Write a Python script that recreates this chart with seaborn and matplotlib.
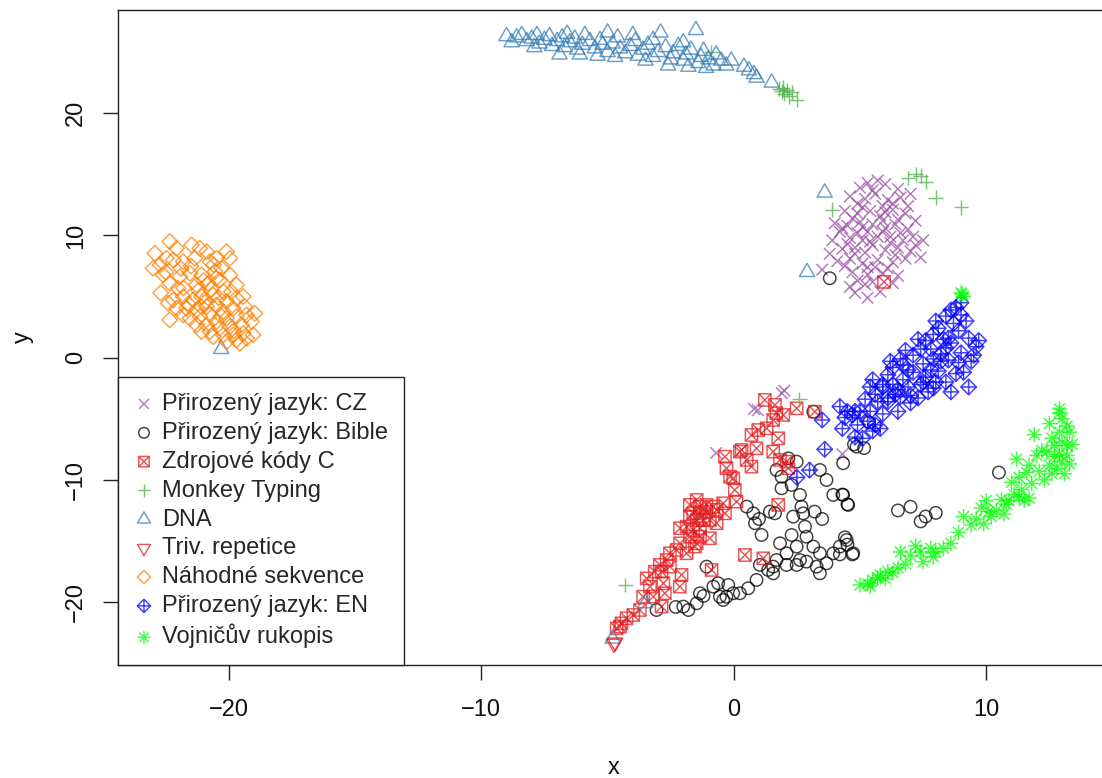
import numpy as np
import pandas as pd
import matplotlib
matplotlib.use("Agg")
import matplotlib.pyplot as plt
from matplotlib.path import Path
import seaborn as sns

# ---------------- data ----------------
cz_x = [5.3, 5.7, 6.0, 5.0, 6.5, 7.0, 4.6, 5.2, 5.6, 6.1, 6.6, 4.9, 5.9, 4.4, 4.9, 5.4, 5.8, 6.3, 6.8, 7.2, 6.5,
        4.0, 4.5, 5.0, 5.5, 6.0, 6.4, 6.9, 4.2, 5.3, 3.9, 4.6, 5.1, 5.7, 6.2, 6.7, 7.5, 7.1, 4.9,
        4.3, 4.8, 5.5, 6.0, 6.5, 7.0, 7.4, 3.8, 5.2, 4.1, 4.6, 5.1, 5.7, 6.3, 6.8, 6.1, 4.4,
        3.5, 4.7, 5.3, 5.9, 6.5, 4.9, 4.6, 5.2, 5.8, 5.3, 6.3, 4.8,
        5.5, 6.3, 5.1, 4.7, 5.9, 6.6, 5.4, 6.4, 5.6, 4.5, 7.2, 5.9, 6.9, 4.8, 5.5, 6.0, 5.1, 6.2, 4.3, 5.3,
        -0.7, 0.8, 0.95, 1.9, 2.0, 4.3]
cz_y = [14.3, 14.5, 14.2, 13.9, 13.8, 13.4, 13.2, 13.0, 13.4, 12.9, 13.1, 12.6, 12.4, 12.0, 11.8, 12.0, 11.6, 12.1, 11.8, 11.2, 11.3,
        11.0, 10.8, 11.1, 10.9, 10.6, 10.9, 10.5, 10.3, 10.3, 9.6, 9.8, 9.6, 9.9, 9.9, 9.6, 9.6, 9.9, 10.2,
        8.9, 9.0, 9.2, 8.8, 9.0, 8.7, 8.2, 8.5, 8.6, 7.9, 8.1, 7.7, 8.0, 7.8, 8.1, 7.3, 7.5,
        7.2, 7.0, 6.8, 6.9, 6.7, 6.3, 5.8, 6.0, 5.4, 4.9, 6.1, 5.3,
        13.7, 12.6, 12.3, 11.4, 11.2, 10.2, 9.5, 8.4, 7.4, 9.3, 9.2, 10.3, 12.4, 8.5, 6.2, 11.9, 10.7, 9.4, 10.6, 7.4,
        -7.8, -4.2, -4.3, -2.9, -2.7, -7.9]

bible_x = [3.15, 2.16, 2.49, 1.69, 1.89, 2.29, 1.89, 3.41, 3.67, 4.33, 4.86, 3.94, 4.33, 4.53, 2.62, 2.68, 2.75, 2.35,
           2.82, 2.88, 0.51, 0.77, 0.84, 1.10, 1.43, 1.63, 2.29, 2.49, 2.09, 1.69, 1.36, 1.56, 1.83, 1.03, 0.90, 0.57,
           0.24, -0.02, -0.29, -0.62, -0.22, -0.55, -0.42, -0.81, -1.34, -1.47, -2.00, -1.80, -1.08, 3.15, 3.41, 3.67,
           3.94, 4.20, 4.47, 4.73, 3.28, 3.41, 2.88, 2.62, 2.49, 2.09, 1.56, -3.06, 3.2, 3.5, 1.0, 5.36, 4.76, 5.16,
           4.3, 4.5, 4.4, 4.5, 4.7, 4.2, 6.5, 7.0, 7.6, 7.4, 8.0, 10.5, 3.8, -2.3, -1.2]
bible_y = [-4.42, -8.24, -8.51, -9.19, -9.74, -10.42, -10.69, -9.19, -10.01, -8.64, -7.28, -11.23, -11.23, -12.05,
           -11.23, -12.19, -12.74, -13.01, -13.83, -14.65, -12.19, -12.74, -13.55, -14.51, -12.60, -12.74, -14.51,
           -15.46, -16.01, -16.56, -17.37, -17.65, -15.19, -16.96, -18.19, -18.87, -19.28, -19.28, -19.56, -18.46,
           -18.6, -19.56, -19.83, -18.74, -19.28, -20.10, -20.37, -20.65, -17.10, -15.46, -16.01, -16.83, -16.01,
           -15.46, -14.92, -16.01, -17.10, -17.65, -16.69, -16.56, -16.96, -16.96, -17.10, -20.65, -12.6, -13.2,
           -13.2, -5.3, -7.1, -7.4, -11.2, -12.0, -14.7, -15.3, -16.1, -16.1, -12.5, -12.2, -13.0, -13.4, -12.7,
           -9.4, 6.5, -20.4, -19.5]

code_x = [1.23, 2.49, 3.21, 1.63, 1.69, 1.56, 1.96, 1.30, 0.97, 0.70, 1.76, 0.31, 0.24, 0.90, 0.51, 0.70, -0.35, -0.29,
          -0.15, -0.02, 1.56, 1.83, 2.09, 2.16, 0.04, 0.11, 1.76, -0.42, -0.35, -0.68, -1.74, -1.47, -1.34, -1.08,
          -0.81, -1.61, -1.34, -1.08, -1.21, -1.47, -1.74, -0.95, -0.68, -2.13, -1.87, -1.61, -1.34, -1.74, -1.34,
          -0.95, -1.47, -2.13, -1.87, -1.54, -2.27, -2.53, -2.66, -2.93, -2.53, 0.44, 1.17, -0.88, -3.13, -2.86,
          -3.45, -3.32, -2.79, -2.07, -2.14, -2.73, -3.19, -2.86, -3.59, -3.72, -3.98, -4.25, -4.45, -4.51, -4.64,
          5.95]
code_y = [-3.46, -4.14, -4.42, -3.87, -4.55, -5.10, -4.69, -5.78, -5.92, -6.33, -6.60, -7.55, -7.69, -7.42, -8.37,
          -8.92, -8.10, -9.05, -9.74, -9.87, -7.69, -8.37, -8.51, -9.05, -10.83, -11.78, -12.05, -11.92, -12.74,
          -12.46, -12.05, -11.64, -12.19, -12.05, -12.19, -12.74, -12.74, -12.60, -13.28, -13.28, -13.01, -13.28,
          -13.55, -13.96, -13.83, -14.10, -13.96, -14.65, -14.65, -14.78, -15.19, -15.19, -16.01, -15.46, -15.74,
          -16.01, -16.56, -16.96, -17.10, -16.15, -16.42, -17.37, -17.51, -17.51, -18.06, -18.74, -18.46, -17.78,
          -18.74, -19.28, -19.56, -20.37, -19.56, -20.65, -21.06, -21.33, -21.74, -22.01, -22.15, 6.2]

monkey_x = [1.8, 1.9, 2.0, 2.1, 2.2, 2.3, 2.5, 1.95, 6.9, 7.2, 7.4, 7.6, 8.0, 9.0, 3.9, -4.3, 2.6, -0.9]
monkey_y = [22.0, 21.8, 21.6, 21.9, 21.4, 21.7, 21.1, 22.1, 14.7, 15.0, 14.9, 14.4, 13.1, 12.3, 12.1, -18.6, -3.4, 25.0]

dna_x = [-9.0, -8.6, -8.4, -8.2, -8.0, -7.8, -7.7, -7.5, -7.3, -7.2, -7.0, -6.8, -6.7, -6.5, -6.3, -6.2, -6.0, -5.9,
         -5.7, -5.5, -5.3, -5.2, -5.0, -4.8, -4.6, -4.5, -4.3, -4.1, -3.9, -3.8, -3.6, -3.4, -3.2, -3.0, -2.9, -2.7,
         -2.5, -2.4, -2.2, -2.0, -1.9, -1.7, -1.5, -1.4, -1.3, -1.2, -1.0, -0.8, -0.7, -0.5, -0.1, 0.4, 0.6, 0.8,
         0.9, 1.5, -8.8, -7.9, -6.9, -6.1, -5.4, -4.7, -3.5, -2.6, -1.8, -1.1, -0.3, -4.0, -5.0, -6.6, -3.2, -2.0,
         3.6, 2.9, -20.3, -3.5, -4.8]
dna_y = [26.3, 26.2, 26.4, 25.9, 26.1, 26.4, 25.7, 26.0, 26.3, 25.5, 25.9, 26.2, 25.4, 25.8, 26.1, 25.2, 25.6, 26.4,
         25.9, 25.3, 26.0, 25.6, 25.0, 25.7, 26.2, 25.3, 24.9, 25.5, 25.9, 24.7, 25.2, 25.6, 24.6, 25.0, 26.6, 25.4,
         24.4, 24.9, 25.5, 24.3, 24.8, 25.2, 26.8, 24.1, 24.6, 25.1, 24.4, 23.9, 24.8, 24.3, 24.3, 23.8, 23.5, 23.2,
         22.9, 22.5, 25.8, 25.4, 24.8, 24.8, 24.7, 24.6, 24.3, 23.9, 23.8, 23.7, 23.9, 26.4, 26.6, 26.5, 26.0, 25.8,
         13.5, 7.0, 0.7, -20.1, -23.0]

triv_x = [-4.75, -4.7]
triv_y = [-23.4, -23.3]

rand_x = [-22.93, -22.34, -22.07, -22.73, -23.00, -22.47, -21.81, -21.48, -21.15, -20.88, -21.35, -20.75, -20.49,
          -20.09, -19.96, -20.29, -20.55, -21.08, -21.54, -21.94, -22.34, -22.60, -22.01, -21.28, -20.82, -20.36,
          -19.96, -19.70, -20.22, -20.62, -21.08, -21.41, -21.81, -22.20, -22.40, -22.07, -21.68, -21.28, -20.88,
          -20.49, -20.09, -19.70, -19.43, -19.37, -19.83, -20.22, -20.75, -21.15, -21.54, -21.81, -22.34, -21.28,
          -20.88, -20.49, -20.09, -19.70, -19.30, -18.97, -19.10, -19.50, -19.96, -20.36, -20.75, -21.08, -20.62,
          -20.22, -19.83, -19.43, -19.70, -19.30, -19.04, -20.09, -19.56, -21.0, -21.2, -20.7, -21.5, -22.2, -20.4,
          -20.9, -21.6, -22.5, -21.9, -20.5, -19.9, -21.8, -20.3, -19.8, -21.1, -22.7, -20.6]
rand_y = [8.54, 9.50, 8.95, 7.59, 7.31, 8.13, 7.86, 9.22, 8.95, 8.68, 8.13, 7.86, 8.13, 8.68, 8.13, 7.31, 7.04, 6.77,
          6.90, 6.63, 6.09, 6.77, 5.68, 5.95, 6.09, 6.36, 6.77, 5.95, 5.40, 5.13, 5.00, 4.72, 5.00, 4.72, 4.45, 4.04,
          4.04, 3.90, 4.18, 4.31, 4.59, 4.86, 5.00, 4.18, 4.04, 3.77, 3.50, 3.36, 3.22, 3.50, 3.09, 2.68, 2.68, 2.95,
          3.22, 3.36, 3.50, 3.63, 2.95, 2.68, 2.54, 2.40, 2.13, 2.13, 1.72, 1.86, 1.86, 1.99, 1.45, 1.59, 1.86, 1.31,
          1.18, 6.3, 5.5, 5.6, 7.5, 8.0, 4.9, 4.6, 4.4, 7.0, 7.3, 6.5, 5.4, 5.7, 3.4, 2.2, 4.2, 5.3, 7.6]

en_x = [8.8, 8.4, 9.0, 8.7, 9.2, 9.0, 8.6, 7.9, 8.3, 7.6, 8.6, 7.8, 8.2, 8.5, 9.3, 9.6, 9.0, 8.9, 9.4, 8.2, 9.7, 7.3,
        7.1, 6.6, 6.3, 6.7, 7.5, 7.1, 6.7, 6.9, 7.4, 6.3, 5.9, 6.4, 7.0, 6.1, 5.6, 5.7, 5.9, 7.7, 7.8, 8.1, 8.4,
        8.0, 8.5, 7.5, 7.3, 6.6, 7.0, 9.3, 8.6, 6.5, 6.1, 5.4, 5.0, 4.7, 5.4, 4.9, 5.3, 5.6, 4.5, 4.4, 4.3, 3.5,
        3.6, 3.0, 2.5, 4.8, 4.8, 5.5, 5.1, 5.8,
        8.1, 8.9, 7.4, 6.8, 7.9, 6.1, 6.9, 7.6, 5.5, 5.2, 6.5, 8.8, 9.5, 8.0, 4.2, 5.9, 7.9, 6.2, 9.1, 8.4]
en_y = [4.1, 3.4, 3.5, 2.8, 3.0, 4.5, 3.9, 1.9, 1.5, 1.4, 1.2, 0.7, 0.3, 1.6, 1.6, 0.9, 0.4, -0.4, -0.3, -0.3, 1.4, 1.5,
        0.2, -0.1, -0.8, -0.6, -0.5, -1.2, -1.8, -2.4, -2.2, -2.2, -2.4, -3.0, -3.1, -3.6, -3.0, -3.6, -2.2, -2.8,
        -1.0, -1.1, -2.0, -2.0, -0.2, -2.0, -3.3, -3.2, -3.7, -2.4, -2.8, -4.4, -3.3, -2.4, -4.4, -4.7, -4.4, -5.5,
        -5.2, -5.5, -4.4, -4.9, -5.8, -5.1, -7.5, -9.2, -9.8, -4.4, -6.5, -6.0, -6.6, -5.8,
        2.4, 2.2, 0.7, 0.6, -0.1, -1.4, -1.0, -1.6, -1.8, -3.4, -2.6, -1.3, 0.2, 3.0, -4.0, -4.6, -2.5, -0.3, -1.2, 0.8]

voyn_x = [5.0, 5.3, 5.5, 5.8, 6.1, 6.3, 5.7, 6.0, 5.4, 6.5, 6.6, 7.0, 7.4, 7.8, 7.5, 8.0, 8.3, 8.6, 7.9, 7.2,
          9.4, 9.6, 9.8, 10.1, 10.4, 9.9, 10.6, 10.8, 11.1, 11.3, 11.4, 11.5, 11.7, 10.9, 10.2,
          11.2, 11.6, 11.7, 12.0, 12.2, 12.4, 12.7, 12.9, 13.2, 12.1, 12.5, 12.8, 13.2, 11.9, 12.6, 13.0, 11.3,
          12.5, 12.9, 13.0, 13.2, 13.3, 13.4, 12.9, 13.0, 12.9,
          6.8, 8.9, 9.1, 10.0, 10.7, 11.8, 12.3, 12.7, 13.1, 12.6, 13.3, 11.0,
          9.05, 9.1, 9.0]
voyn_y = [-18.6, -18.5, -18.2, -17.8, -17.5, -17.6, -18.0, -18.1, -18.7, -17.2, -15.9, -16.2, -15.9, -15.6, -16.7,
          -15.9, -15.6, -15.2, -16.3, -15.4, -13.7, -13.2, -12.3, -12.6, -12.5, -13.6, -11.6, -12.0, -11.2, -11.4,
          -10.8, -11.7, -11.5, -11.7, -13.0, -8.3, -9.4, -8.8, -8.0, -7.6, -7.7, -7.2, -7.9, -8.0, -9.3, -8.8, -9.1,
          -7.2, -6.3, -9.5, -8.5, -9.8, -5.4, -4.5, -5.0, -5.6, -6.1, -7.1, -6.1, -6.9, -4.2,
          -16.9, -14.3, -13.0, -11.7, -12.8, -10.3, -10.0, -8.1, -9.5, -6.6, -8.7, -10.2,
          5.2, 5.0, 5.3]

labels = ["Přirozený jazyk: CZ", "Přirozený jazyk: Bible", "Zdrojové kódy C", "Monkey Typing", "DNA",
          "Triv. repetice", "Náhodné sekvence", "Přirozený jazyk: EN", "Vojničův rukopis"]
xs = [cz_x, bible_x, code_x, monkey_x, dna_x, triv_x, rand_x, en_x, voyn_x]
ys = [cz_y, bible_y, code_y, monkey_y, dna_y, triv_y, rand_y, en_y, voyn_y]
colors = ["#984EA3", "#000000", "#E41A1C", "#4DAF4A", "#377EB8", "#E41A1C", "#FF7F00", "#0000FF", "#00FF00"]

# ---------------- markers (R pch look-alikes) ----------------
M, L, C = Path.MOVETO, Path.LINETO, Path.CLOSEPOLY
m_x = Path([(-1, -1), (1, 1), (-1, 1), (1, -1)], [M, L, M, L])
m_plus = Path([(-1, 0), (1, 0), (0, -1), (0, 1)], [M, L, M, L])
m_sqx = Path([(-1, -1), (1, -1), (1, 1), (-1, 1), (-1, -1), (-1, -1), (1, 1), (-1, 1), (1, -1)],
             [M, L, L, L, C, M, L, M, L])
s3 = np.sqrt(3)
m_tri_up = Path([(-1, -1 / s3), (1, -1 / s3), (0, 2 / s3), (0, 0)], [M, L, L, C])
m_tri_dn = Path([(-1, 1 / s3), (1, 1 / s3), (0, -2 / s3), (0, 0)], [M, L, L, C])
m_dia = Path([(0, -1), (1, 0), (0, 1), (-1, 0), (0, 0)], [M, L, L, L, C])
m_diaplus = Path([(0, -1), (1, 0), (0, 1), (-1, 0), (0, 0), (-1, 0), (1, 0), (0, -1), (0, 1)],
                 [M, L, L, L, C, M, L, M, L])
a = 0.72
m_star = Path([(-1, 0), (1, 0), (0, -1), (0, 1), (-a, -a), (a, a), (-a, a), (a, -a)], [M, L, M, L, M, L, M, L])

markers = [m_x, "o", m_sqx, m_plus, m_tri_up, m_tri_dn, m_dia, m_diaplus, m_star]
sizes = [70, 80, 78, 115, 160, 160, 125, 125, 120]

# ---------------- plot ----------------
sns.set_style("white")
plt.rcParams["font.family"] = ["Liberation Sans", "DejaVu Sans"]

fig = plt.figure(figsize=(11.02, 7.78), dpi=100)
ax = fig.add_axes([118 / 1102, 113 / 778, 992 / 1102, 655 / 778])

for lab, x, y, col, mk, sz in zip(labels, xs, ys, colors, markers, sizes):
    df = pd.DataFrame({"x": x, "y": y})
    sns.scatterplot(data=df, x="x", y="y", ax=ax, marker=mk, s=sz, color=col,
                    facecolor="none", edgecolor=col, linewidth=1.05, alpha=0.75, label=lab)

ax.set_xlim(-24.39, 14.9)
ax.set_ylim(-25.15, 28.45)
ax.set_xticks([-20, -10, 0, 10])
ax.set_yticks([-20, -10, 0, 10, 20])
ax.tick_params(axis="both", direction="out", length=10.5, width=1, color="#222222",
               labelsize=17, labelcolor="#111111", bottom=True, left=True)
ax.tick_params(axis="x", pad=14)
ax.tick_params(axis="y", pad=12)
for t in ax.get_yticklabels():
    t.set_rotation(90)
    t.set_va("center")
for sp in ax.spines.values():
    sp.set_visible(True)
    sp.set_color("#222222")
    sp.set_linewidth(1.0)

ax.set_xlabel("x", fontsize=17, labelpad=26, color="#111111")
ax.set_ylabel("y", fontsize=17, labelpad=22, color="#111111")

leg = ax.legend(loc="lower left", bbox_to_anchor=(0, 0), borderaxespad=0, frameon=True, fancybox=False,
                fontsize=17, handlelength=0.8, handletextpad=0.35, borderpad=0.7, labelspacing=0.29,
                markerscale=0.85)
leg.get_frame().set_edgecolor("#222222")
leg.get_frame().set_linewidth(1.0)
leg.get_frame().set_alpha(1)

fig.savefig("out.png", dpi=100)
